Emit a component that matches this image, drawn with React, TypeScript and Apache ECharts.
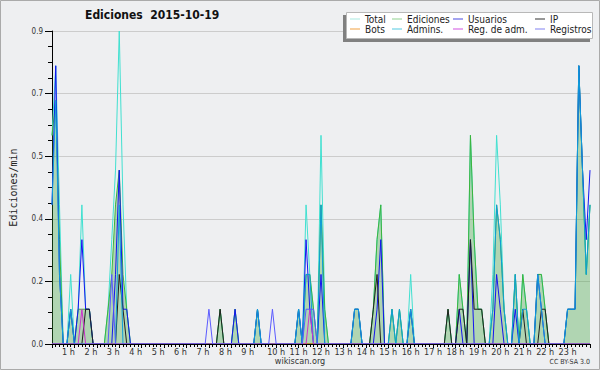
import React, { useEffect, useRef } from "react";
import * as echarts from "echarts";

// 10-minute slots, index i -> hour i/6 (0 .. 24)
const TOTAL = [
  0.6, 0.8, 0.4, 0, 0, 0.2, 0, 0.1, 0.4, 0.1, 0.1, 0,
  0, 0, 0, 0.1, 0.3, 0.5, 0.9, 0.4, 0.1, 0, 0, 0,
  0, 0, 0, 0, 0, 0, 0, 0, 0, 0, 0, 0,
  0, 0, 0, 0, 0, 0, 0, 0, 0, 0.1, 0, 0,
  0, 0.1, 0, 0, 0, 0, 0, 0.1, 0, 0, 0, 0,
  0, 0, 0, 0, 0, 0, 0.1, 0, 0.4, 0.2, 0.1, 0,
  0.6, 0.1, 0, 0, 0, 0, 0, 0, 0, 0.1, 0.1, 0,
  0, 0, 0.1, 0.3, 0.4, 0, 0, 0.1, 0, 0.1, 0, 0,
  0.2, 0, 0, 0, 0, 0, 0, 0, 0, 0, 0.1, 0,
  0, 0.2, 0.1, 0, 0.6, 0.3, 0.1, 0.1, 0, 0, 0.2, 0.6,
  0.4, 0.1, 0, 0, 0.2, 0, 0.2, 0.1, 0, 0, 0.2, 0.2,
  0.1, 0, 0, 0, 0, 0, 0.1, 0.1, 0.1, 0.8, 0.5, 0.2,
  0.4,
];

const EDICIONES = [
  0.6, 0.7, 0.3, 0, 0, 0.1, 0, 0.1, 0.1, 0.1, 0.1, 0,
  0, 0, 0, 0.1, 0.2, 0.4, 0.5, 0.2, 0.1, 0, 0, 0,
  0, 0, 0, 0, 0, 0, 0, 0, 0, 0, 0, 0,
  0, 0, 0, 0, 0, 0, 0, 0, 0, 0.1, 0, 0,
  0, 0.1, 0, 0, 0, 0, 0, 0.1, 0, 0, 0, 0,
  0, 0, 0, 0, 0, 0, 0.1, 0, 0.2, 0.2, 0.1, 0,
  0.4, 0.1, 0, 0, 0, 0, 0, 0, 0, 0.1, 0.1, 0,
  0, 0, 0.1, 0.3, 0.4, 0, 0, 0.1, 0, 0.1, 0, 0,
  0.1, 0, 0, 0, 0, 0, 0, 0, 0, 0, 0.1, 0,
  0, 0.2, 0.1, 0, 0.6, 0.3, 0.1, 0.1, 0, 0, 0.1, 0.4,
  0.3, 0.1, 0, 0, 0.2, 0, 0.2, 0.1, 0, 0, 0.2, 0.2,
  0.1, 0, 0, 0, 0, 0, 0.1, 0.1, 0.1, 0.8, 0.5, 0.2,
  0.4,
];

const USUARIOS = [
  0.4, 0.8, 0.2, 0, 0, 0.1, 0, 0.1, 0.3, 0.1, 0.1, 0,
  0, 0, 0, 0, 0, 0.2, 0.5, 0.1, 0.1, 0, 0, 0,
  0, 0, 0, 0, 0, 0, 0, 0, 0, 0, 0, 0,
  0, 0, 0, 0, 0, 0, 0, 0, 0, 0, 0, 0,
  0, 0.1, 0, 0, 0, 0, 0, 0.1, 0, 0, 0, 0,
  0, 0, 0, 0, 0, 0, 0.1, 0, 0.3, 0.1, 0, 0,
  0.2, 0, 0, 0, 0, 0, 0, 0, 0, 0.1, 0.1, 0,
  0, 0, 0, 0.1, 0.3, 0, 0, 0, 0, 0, 0, 0,
  0.1, 0, 0, 0, 0, 0, 0, 0, 0, 0, 0, 0,
  0, 0.1, 0, 0, 0.3, 0, 0, 0, 0, 0, 0, 0.2,
  0.1, 0, 0, 0, 0.1, 0, 0, 0, 0, 0, 0.2, 0.1,
  0, 0, 0, 0, 0, 0, 0.1, 0.1, 0.1, 0.8, 0.5, 0.3,
  0.5,
];

const IP = [
  0, 0, 0, 0, 0, 0, 0, 0, 0, 0.1, 0.1, 0,
  0, 0, 0, 0, 0, 0, 0.2, 0.1, 0, 0, 0, 0,
  0, 0, 0, 0, 0, 0, 0, 0, 0, 0, 0, 0,
  0, 0, 0, 0, 0, 0, 0, 0, 0, 0.1, 0, 0,
  0, 0, 0, 0, 0, 0, 0, 0, 0, 0, 0, 0,
  0, 0, 0, 0, 0, 0, 0, 0, 0, 0, 0, 0,
  0, 0, 0, 0, 0, 0, 0, 0, 0, 0, 0, 0,
  0, 0, 0.1, 0.2, 0, 0, 0, 0, 0, 0, 0, 0,
  0, 0, 0, 0, 0, 0, 0, 0, 0, 0, 0.1, 0,
  0, 0.1, 0.1, 0, 0.3, 0.1, 0.1, 0.1, 0, 0, 0, 0,
  0, 0, 0, 0, 0, 0, 0.1, 0, 0, 0, 0, 0.1,
  0.1, 0, 0, 0, 0, 0, 0, 0, 0, 0, 0, 0,
  0,
];

const BOTS = [
  0, 0, 0, 0, 0, 0, 0, 0, 0, 0, 0, 0,
  0, 0, 0, 0, 0, 0, 0, 0, 0, 0, 0, 0,
  0, 0, 0, 0, 0, 0, 0, 0, 0, 0, 0, 0,
  0, 0, 0, 0, 0, 0, 0, 0, 0, 0, 0, 0,
  0, 0, 0, 0, 0, 0, 0, 0, 0, 0, 0, 0,
  0, 0, 0, 0, 0, 0, 0, 0, 0, 0, 0, 0,
  0, 0, 0, 0, 0, 0, 0, 0, 0, 0, 0, 0,
  0, 0, 0, 0, 0, 0, 0, 0, 0, 0, 0, 0,
  0, 0, 0, 0, 0, 0, 0, 0, 0, 0, 0, 0,
  0, 0, 0, 0, 0, 0, 0, 0, 0, 0, 0, 0,
  0, 0, 0, 0, 0, 0, 0, 0, 0, 0, 0, 0,
  0, 0, 0, 0, 0, 0, 0, 0, 0, 0, 0, 0,
  0,
];

const ADMINS = [
  0.4, 0.7, 0.2, 0, 0, 0.1, 0, 0, 0, 0, 0, 0,
  0, 0, 0, 0, 0, 0, 0.4, 0, 0, 0, 0, 0,
  0, 0, 0, 0, 0, 0, 0, 0, 0, 0, 0, 0,
  0, 0, 0, 0, 0, 0, 0, 0, 0, 0, 0, 0,
  0, 0, 0, 0, 0, 0, 0, 0.1, 0, 0, 0, 0,
  0, 0, 0, 0, 0, 0, 0.1, 0, 0.2, 0.2, 0, 0,
  0.4, 0, 0, 0, 0, 0, 0, 0, 0, 0.1, 0.1, 0,
  0, 0, 0, 0, 0, 0, 0, 0.1, 0, 0.1, 0, 0,
  0.1, 0, 0, 0, 0, 0, 0, 0, 0, 0, 0, 0,
  0, 0, 0, 0, 0, 0, 0, 0, 0, 0, 0.1, 0.4,
  0.3, 0.1, 0, 0, 0.2, 0, 0.1, 0.1, 0, 0, 0.2, 0.1,
  0, 0, 0, 0, 0, 0, 0.1, 0.1, 0.1, 0.8, 0.5, 0.2,
  0.4,
];

const REG_ADM = [
  0, 0, 0, 0, 0, 0, 0, 0, 0.1, 0, 0, 0,
  0, 0, 0, 0, 0, 0, 0, 0, 0, 0, 0, 0,
  0, 0, 0, 0, 0, 0, 0, 0, 0, 0, 0, 0,
  0, 0, 0, 0, 0, 0, 0, 0, 0, 0, 0, 0,
  0, 0, 0, 0, 0, 0, 0, 0, 0, 0, 0, 0,
  0, 0, 0, 0, 0, 0, 0, 0, 0, 0.1, 0, 0,
  0, 0, 0, 0, 0, 0, 0, 0, 0, 0, 0, 0,
  0, 0, 0, 0, 0, 0, 0, 0, 0, 0, 0, 0,
  0, 0, 0, 0, 0, 0, 0, 0, 0, 0, 0, 0,
  0, 0, 0, 0, 0, 0, 0, 0, 0, 0, 0, 0,
  0, 0, 0, 0, 0, 0, 0, 0, 0, 0, 0, 0,
  0, 0, 0, 0, 0, 0, 0, 0, 0, 0, 0, 0,
  0,
];

const REGISTROS = [
  0, 0, 0, 0, 0, 0, 0, 0, 0, 0, 0, 0,
  0, 0, 0, 0, 0.2, 0, 0, 0, 0, 0, 0, 0,
  0, 0, 0, 0, 0, 0, 0, 0, 0, 0, 0, 0,
  0, 0, 0, 0, 0, 0, 0.1, 0, 0, 0, 0, 0,
  0, 0, 0, 0, 0, 0, 0, 0, 0, 0, 0, 0.1,
  0, 0, 0, 0, 0, 0, 0, 0, 0.1, 0.1, 0.1, 0,
  0, 0, 0, 0, 0, 0, 0, 0, 0, 0, 0, 0,
  0, 0, 0, 0, 0, 0, 0, 0, 0, 0, 0, 0,
  0, 0, 0, 0, 0, 0, 0, 0, 0, 0, 0, 0,
  0, 0, 0, 0, 0, 0, 0, 0, 0, 0, 0, 0,
  0, 0, 0, 0, 0, 0, 0, 0, 0, 0, 0, 0,
  0, 0, 0, 0, 0, 0, 0, 0, 0, 0, 0, 0,
  0,
];

const TITLE = "Ediciones  2015-10-19";
const Y_NAME = "Ediciones/min";
const Y_MAX = 0.9;
const Y_STEP = 0.18;
const X_MAX_HOURS = 24;
const SLOTS_PER_HOUR = 6;

const SERIES = [
  { name: "Total", data: TOTAL, color: "#40e0d0", legend: "#a8e8e0" },
  { name: "Ediciones", data: EDICIONES, color: "#3cb43c", legend: "#8fd08f", area: true },
  { name: "Usuarios", data: USUARIOS, color: "#1414f0", legend: "#4848e0" },
  { name: "IP", data: IP, color: "#202020", legend: "#303030" },
  { name: "Bots", data: BOTS, color: "#ff9900", legend: "#f0a040" },
  { name: "Admins.", data: ADMINS, color: "#0f9ed8", legend: "#50c8e0" },
  { name: "Reg. de adm.", data: REG_ADM, color: "#cc33cc", legend: "#d050e0" },
  { name: "Registros", data: REGISTROS, color: "#5a5aff", legend: "#8080f0" },
];

const LEGEND_COLUMNS = [
  { left: 350, names: ["Total", "Bots"] },
  { left: 392, names: ["Ediciones", "Admins."] },
  { left: 453, names: ["Usuarios", "Reg. de adm."] },
  { left: 535, names: ["IP", "Registros"] },
];

const COND = "'DejaVu Sans Condensed', 'DejaVu Sans', sans-serif";

export default function App() {
  const ref = useRef<HTMLDivElement>(null);
  useEffect(() => {
    const chart = echarts.init(ref.current as HTMLDivElement, null, { renderer: "svg" });
    const legendColor = (n: string) => SERIES.find((s) => s.name === n)!.legend;
    const option: any = {
      animation: false,
      backgroundColor: "#eeeff1",
      title: {
        text: TITLE,
        left: 85,
        top: 9,
        padding: 0,
        textStyle: { fontFamily: COND, fontSize: 12, fontWeight: "bold", color: "#111" },
      },
      legend: LEGEND_COLUMNS.map((c) => ({
        left: c.left,
        top: 14,
        orient: "vertical",
        padding: 0,
        itemGap: 0,
        itemWidth: 10,
        itemHeight: 1,
        icon: "rect",
        selectedMode: false,
        textStyle: { fontFamily: COND, fontSize: 10, lineHeight: 10, color: "#222" },
        data: c.names.map((n) => ({ name: n, icon: "rect", itemStyle: { color: legendColor(n) } })),
        z: 10,
      })),
      graphic: [
        { type: "rect", z: -1, silent: true, shape: { x: 0.5, y: 0.5, width: 599, height: 369 }, style: { fill: "none", stroke: "#aaaaaa", lineWidth: 1 } },
        { type: "rect", z: 5, silent: true, shape: { x: 343, y: 15, width: 247, height: 27 }, style: { fill: "#808080" } },
        { type: "rect", z: 6, silent: true, shape: { x: 346.5, y: 12.5, width: 246, height: 26 }, style: { fill: "#ffffff", stroke: "#b8b8b8", lineWidth: 1 } },
        { type: "text", silent: true, x: 300, y: 361, style: { text: "wikiscan.org", fontFamily: COND, fontSize: 9, fill: "#333", align: "center", verticalAlign: "middle" } },
        { type: "text", silent: true, x: 590, y: 362, style: { text: "CC BY-SA 3.0", fontFamily: COND, fontSize: 7, fill: "#333", align: "right", verticalAlign: "middle" } },
      ],
      grid: { left: 46, right: 10, top: 31, bottom: 26, containLabel: false },
      xAxis: {
        type: "value",
        min: 0,
        max: X_MAX_HOURS,
        interval: 1,
        z: 4,
        axisLine: { show: true, lineStyle: { color: "#000", width: 1 } },
        axisTick: { show: true, length: 4, lineStyle: { color: "#000" } },
        minorTick: { show: true, splitNumber: SLOTS_PER_HOUR, length: 3, lineStyle: { color: "#000" } },
        splitLine: { show: false },
        axisLabel: {
          margin: 3,
          fontFamily: COND,
          fontSize: 9,
          color: "#333",
          formatter: (v: number) => {
            if (v <= 0 || v >= X_MAX_HOURS) return "";
            return v < 10 ? `{s|${v} h}` : `${v} h`;
          },
          rich: { s: { fontFamily: COND, fontSize: 9, color: "#333", padding: [0, 12, 0, 0] } },
        },
      },
      yAxis: {
        type: "value",
        min: 0,
        max: Y_MAX,
        interval: Y_STEP,
        name: Y_NAME,
        nameLocation: "middle",
        nameGap: 34,
        nameTextStyle: { fontFamily: "'DejaVu Sans Mono', monospace", fontSize: 10, color: "#222" },
        axisLine: { show: true, lineStyle: { color: "#000", width: 1 } },
        axisTick: { show: true, length: 7, lineStyle: { color: "#000" } },
        minorTick: { show: true, splitNumber: 4, length: 4, lineStyle: { color: "#000" } },
        splitLine: { show: true, lineStyle: { color: "#cccccc", width: 1 } },
        axisLabel: {
          margin: 9,
          fontFamily: COND,
          fontSize: 8,
          color: "#333",
          formatter: (v: number) => v.toFixed(1),
        },
      },
      series: SERIES.map((s) => ({
        name: s.name,
        type: "line",
        silent: true,
        symbol: "none",
        showSymbol: false,
        data: s.data.map((v, i) => [i / SLOTS_PER_HOUR, v]),
        lineStyle: { width: 1, color: s.color },
        itemStyle: { color: s.color },
        areaStyle: s.area ? { color: "rgba(51,160,51,0.47)", origin: "start" } : undefined,
        emphasis: { disabled: true },
      })),
    };
    chart.setOption(option);
    return () => chart.dispose();
  }, []);
  return <div ref={ref} style={{ position: "fixed", left: 0, top: 0, width: 600, height: 370 }} />;
}
